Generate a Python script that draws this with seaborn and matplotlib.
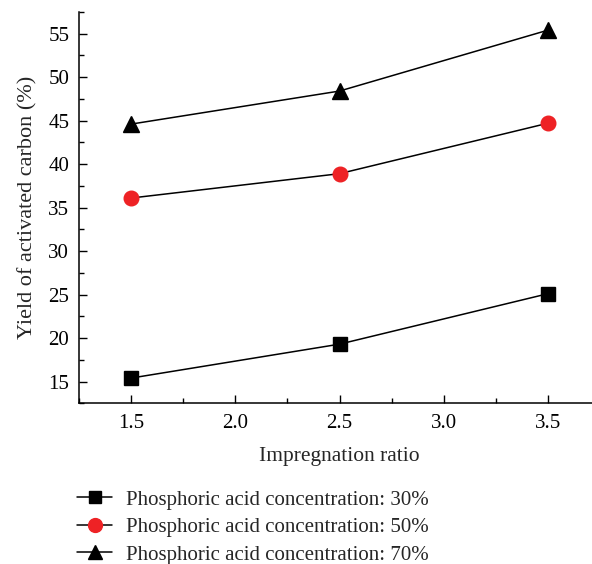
import matplotlib
matplotlib.use("Agg")
import matplotlib.pyplot as plt
from matplotlib.ticker import MultipleLocator
import pandas as pd
import seaborn as sns

impregnation_ratio = [1.5, 2.5, 3.5]
yield_30 = [15.4, 19.3, 25.1]
yield_50 = [36.1, 38.9, 44.7]
yield_70 = [44.6, 48.4, 55.4]
series_labels = [
    "Phosphoric acid concentration: 30%",
    "Phosphoric acid concentration: 50%",
    "Phosphoric acid concentration: 70%",
]

rows = []
for label, values in zip(series_labels, [yield_30, yield_50, yield_70]):
    for x, y in zip(impregnation_ratio, values):
        rows.append({"ratio": x, "yield": y, "series": label})
df = pd.DataFrame(rows)

sns.set_style("ticks")
plt.rcParams["font.family"] = ["Liberation Serif", "DejaVu Serif"]

fig = plt.figure(figsize=(5.92, 5.64), dpi=100)
ax = fig.add_axes([79 / 592, 160.7 / 564, 521 / 592, 391.4 / 564])

palette = {series_labels[0]: "black", series_labels[1]: "#ee2225", series_labels[2]: "black"}
markers = {series_labels[0]: "s", series_labels[1]: "o", series_labels[2]: "^"}
sizes = {series_labels[0]: 9.5, series_labels[1]: 10.5, series_labels[2]: 11}

for label in series_labels:
    sub = df[df["series"] == label]
    sns.lineplot(data=sub, x="ratio", y="yield", ax=ax, color="black",
                 linewidth=1.1, legend=False, zorder=2)
    ax.plot(sub["ratio"], sub["yield"], linestyle="none", marker=markers[label],
            markersize=sizes[label], color=palette[label],
            markeredgecolor=palette[label], zorder=3)

ax.set_xlim(1.25, 3.75)
ax.set_ylim(12.5, 57.5)
ax.xaxis.set_major_locator(MultipleLocator(0.5))
ax.xaxis.set_minor_locator(MultipleLocator(0.25))
ax.yaxis.set_major_locator(MultipleLocator(5))
ax.yaxis.set_minor_locator(MultipleLocator(2.5))
ax.tick_params(which="both", direction="in", width=1.0, labelsize=15, colors="black")
ax.tick_params(which="major", length=5.5)
ax.tick_params(which="minor", length=3.5)
ax.tick_params(axis="x", pad=8)
ax.tick_params(axis="y", pad=7)

for side in ["top", "right"]:
    ax.spines[side].set_visible(False)
for side in ["left", "bottom"]:
    ax.spines[side].set_linewidth(1.1)
    ax.spines[side].set_color("black")

ax.set_xlabel("Impregnation ratio", fontsize=15.5, labelpad=10)
ax.set_ylabel("Yield of activated carbon (%)", fontsize=16, labelpad=8)
ax.set_facecolor("white")

handles = [
    plt.Line2D([], [], color="black", linewidth=1.1, marker=markers[l],
               markersize=sizes[l] * 0.95, markerfacecolor=palette[l],
               markeredgecolor=palette[l])
    for l in series_labels
]
fig.legend(handles, series_labels, loc="upper left",
           bbox_to_anchor=(77 / 592, 1 - 490 / 564), frameon=False,
           fontsize=15, handlelength=1.7, handletextpad=0.65,
           labelspacing=0.38, borderaxespad=0, borderpad=0)

fig.savefig("out.png", dpi=100, facecolor="white")
